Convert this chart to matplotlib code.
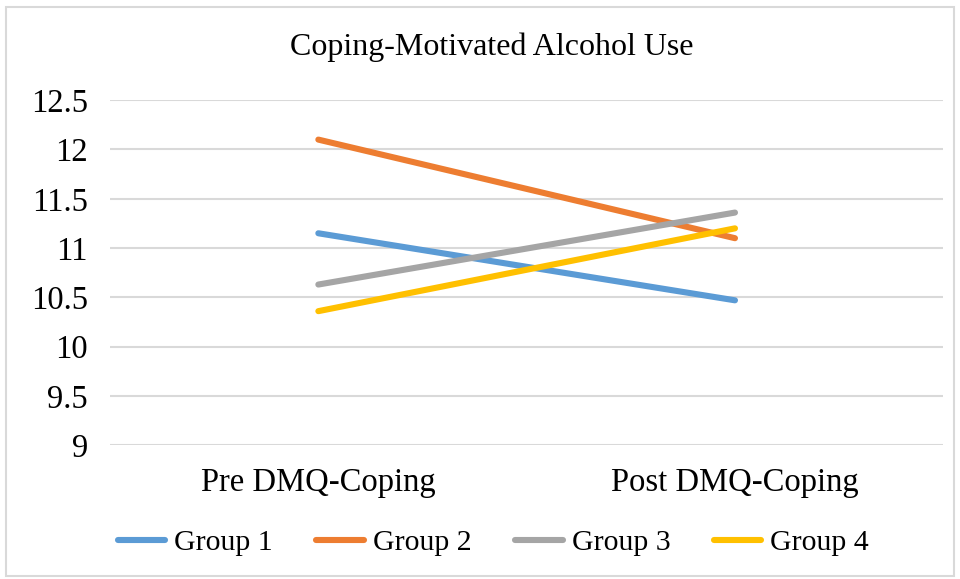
import matplotlib.pyplot as plt
from matplotlib.patches import Rectangle

#--------------------------------------
categories = ['Pre DMQ-Coping', 'Post DMQ-Coping']
groups     = ['Group 1', 'Group 2', 'Group 3', 'Group 4']
group1     = [11.15, 10.47]
group2     = [12.10, 11.10]
group3     = [10.63, 11.36]
group4     = [10.36, 11.20]
colors     = ['#5b9bd5', '#ed7d31', '#a5a5a5', '#ffc000']
yticks     = [9, 9.5, 10, 10.5, 11, 11.5, 12, 12.5]
#--------------------------------------
plt.rcParams['font.family'] = ['Liberation Serif', 'DejaVu Serif']

fig = plt.figure(figsize=(9.6, 5.79), dpi=100)
fig.patches.append(Rectangle((0.006, 0.006), 0.988, 0.982, transform=fig.transFigure,
                             fill=False, edgecolor='#d9d9d9', linewidth=1.5))
ax = fig.add_axes([0.1146, 0.231, 0.868, 0.596])

xs = list(range(len(categories)))
for name, vals, c in zip(groups, [group1, group2, group3, group4], colors):
    ax.plot(xs, vals, color=c, linewidth=4.4, solid_capstyle='round', label=name)

ax.set_xlim(-0.5, 1.5)
ax.set_ylim(9, 12.5)
ax.set_yticks(yticks)
ax.set_yticklabels(['9', '9.5', '10', '10.5', '11', '11.5', '12', '12.5'])
ax.set_xticks(xs)
ax.set_xticklabels(categories)
ax.tick_params(axis='both', length=0, labelsize=23.5, colors='black')
ax.tick_params(axis='y', pad=16)
ax.tick_params(axis='x', pad=16)
ax.grid(axis='y', color='#d9d9d9', linewidth=1.5)
ax.set_axisbelow(True)
for s in ax.spines.values():
    s.set_visible(False)

fig.text(0.512, 0.918, 'Coping-Motivated Alcohol Use', ha='center', va='center', fontsize=23)

leg = fig.legend(loc='center', bbox_to_anchor=(0.514, 0.063), ncol=4, frameon=False,
                 fontsize=21.5, handlelength=1.6, handletextpad=0.3, columnspacing=1.45)
for h in leg.get_lines():
    h.set_linewidth(4.4)
    h.set_solid_capstyle('round')

fig.savefig('out.png', dpi=100)
